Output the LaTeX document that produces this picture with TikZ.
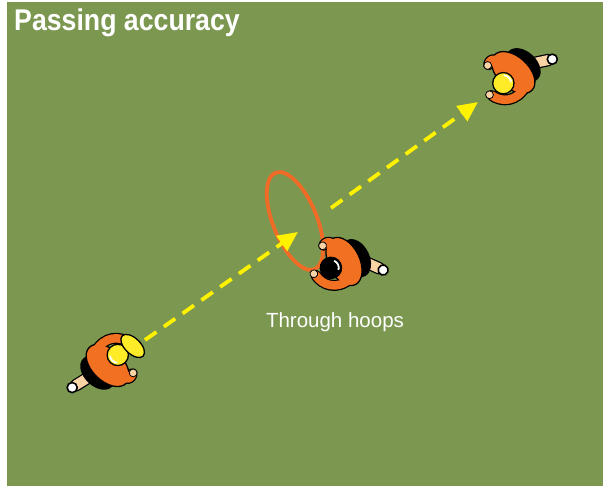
\documentclass[tikz,border=0pt]{standalone}
\usepackage{fontspec}
\setmainfont{Liberation Sans}
\newfontfamily\titlefont[FakeStretch=0.89]{Liberation Sans}
\usetikzlibrary{arrows.meta}

\definecolor{pitch}{RGB}{123,151,80}
\definecolor{shirt}{RGB}{242,112,34}
\definecolor{hoopc}{RGB}{240,108,38}
\definecolor{passyellow}{RGB}{255,242,0}
\definecolor{blond}{RGB}{255,236,40}
\definecolor{skin}{RGB}{250,212,165}

\tikzset{
  pass/.style={draw=passyellow, line width=3.8pt, dash pattern=on 14pt off 9pt,
    -{Triangle[length=20pt,width=18pt]}},
  hoop/.style={draw=hoopc, line width=3.8pt},
  outline/.style={draw=black, line width=1.3pt},
  limbline/.style={line cap=round, line join=round},
}

% one player seen from above; #1,#2 = body centre, #3 = heading (clockwise),
% #4 = hair colour, #5 = swing of the trailing leg
\newcommand{\drawplayer}[5]{%
  \begin{scope}[shift={(#1,#2)}, rotate=-#3, scale=1.12]
    % trailing leg and shoe
    \draw[limbline, black, line width=12.5pt] (-15,-3) -- ++({180+#5}:21);
    \draw[limbline, skin, line width=10pt] (-15,-3) -- ++({180+#5}:21);
    \filldraw[fill=white, draw=black, line width=1.6pt] (-15,-3) ++({180+#5}:25) circle[radius=4.5];
    % shorts
    \fill[black] (-14,-2) ellipse[x radius=12, y radius=18];
    % arms (outline first)
    \draw[limbline, black, line width=11pt] (-4,14) .. controls (2,23) .. (7,21);
    \draw[limbline, black, line width=11pt] (-2,-16) .. controls (14,-21) and (24,-10) .. (25,0);
    % shirt
    \filldraw[fill=shirt, outline] (-3,0) ellipse[x radius=14, y radius=23];
    \draw[limbline, shirt, line width=8.5pt] (-4,14) .. controls (2,23) .. (7,21);
    \draw[limbline, shirt, line width=8.5pt] (-2,-16) .. controls (14,-21) and (24,-10) .. (25,0);
    % hands
    \filldraw[fill=skin, draw=black, line width=0.8pt] (8,21) circle[radius=3.5];
    \filldraw[fill=skin, draw=black, line width=0.8pt] (26,2) circle[radius=3.5];
    % head with a light rim at the back
    \filldraw[fill=#4, outline] (10,0) circle[radius=9.5];
    \draw[white, line width=1.8pt] (10,0) ++(140:7) arc[start angle=140, end angle=220, radius=7];
  \end{scope}}

\begin{document}
\begin{tikzpicture}[x=1pt, y=-1pt]
  \useasboundingbox (0,0) rectangle (603,486);
  \fill[white] (0,0) rectangle (603,486);
  \fill[pitch] (7,2) rectangle (603,486);

  % title and caption
  \node[anchor=base west, inner sep=0, text=white,
        font=\titlefont\bfseries\fontsize{30}{32}\selectfont] (title) at (14,31) {Passing accuracy};
  \node[anchor=base, inner sep=0, text=white,
        font=\fontsize{20.5}{24}\selectfont] (caption) at (335,328) {Through hoops};

  % hoop held up by the middle player
  \begin{scope}[shift={(295,221)}, rotate=-68]
    \draw[hoop] (0,0) ellipse[x radius=52, y radius=22];
  \end{scope}

  % pass path
  \coordinate (kick) at (145,340);
  \coordinate (hoopin) at (298,232);
  \coordinate (hoopout) at (331,208);
  \coordinate (receiver) at (478,102);
  \draw[pass] (kick) -- (hoopin);
  \draw[pass] (hoopout) -- (receiver);

  % players
  \drawplayer{110}{363}{-46}{blond}{14}
  \begin{scope}[shift={(110,363)}, rotate=46, scale=1.12]
    \filldraw[fill=blond, outline] (25,4) ellipse[x radius=7, y radius=13];
  \end{scope}
  \drawplayer{341}{263}{154}{black}{50}
  \drawplayer{511}{75}{133}{blond}{35}
\end{tikzpicture}
\end{document}
